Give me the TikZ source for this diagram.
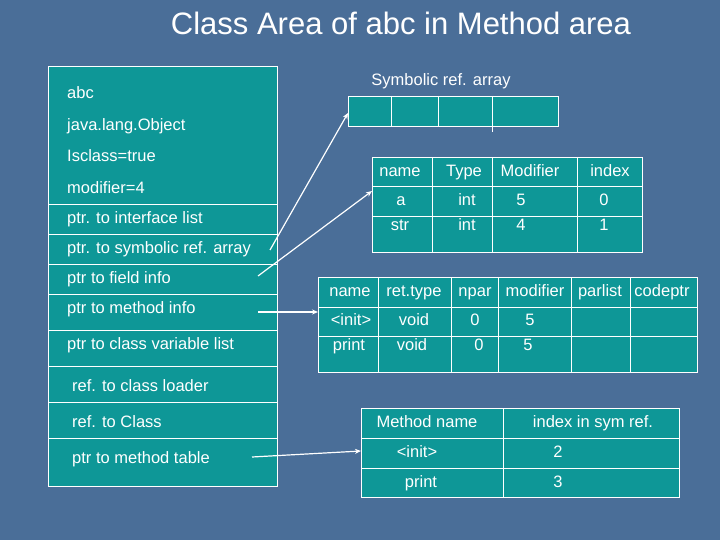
\documentclass[tikz,border=0pt]{standalone}
\usepackage{fontspec}
\setmainfont{Liberation Sans}
\usetikzlibrary{arrows.meta}
\begin{document}
\begin{tikzpicture}[x=1pt,y=-1pt,
  box/.style={fill=teal0,draw=white,line width=0.7pt},
  lbl/.style={text=white,font=\fontsize{16.5}{19}\selectfont,inner sep=0pt,text height=12pt,text depth=3.5pt},
  lt/.style={lbl,anchor=west},
  arr/.style={draw=white,line width=1.2pt,-{Stealth[length=6pt,width=5pt]}}]
\definecolor{teal0}{HTML}{0E9797}
\definecolor{bg}{HTML}{4A6E98}
\fill[bg] (0,0) rectangle (720,540);
\useasboundingbox (0,0) rectangle (720,540);
\node[text=white,font=\fontsize{31}{36}\selectfont,inner sep=0pt] (title) at (401,23) {Class Area of abc in Method area};
% left box
\draw[box] (48,66) rectangle (277,486);
\foreach \y in {204,234,264,294,330,366,402,438} \draw[white,line width=0.7pt] (48,\y) -- (277,\y);
\node[lt] (t1) at (67,94) {abc};
\node[lt] (t2) at (67,126) {java.lang.Object};
\node[lt] (t3) at (67,157) {Isclass=true};
\node[lt] (t4) at (67,189) {modifier=4};
\node[lt] (t5) at (67,219) {ptr. to interface list};
\node[lt] (t6) at (67,249) {ptr. to symbolic ref. array};
\node[lt] (t7) at (67,279) {ptr to field info};
\node[lt] (t8) at (67,309) {ptr to method info};
\node[lt] (t9) at (67,345) {ptr to class variable list};
\node[lt] (t10) at (72,387) {ref. to class loader};
\node[lt] (t11) at (72,423) {ref. to Class};
\node[lt] (t12) at (72,459) {ptr to method table};
\coordinate (s6) at (270,250);
\coordinate (s7) at (258,276);
\coordinate (s8) at (258,312);
\coordinate (s12) at (252,457);
% symbolic array
\node[lbl] (symt) at (441,81) {Symbolic ref. array};
\draw[box] (348,96) rectangle (558,126);
\foreach \x in {391,438,492} \draw[white,line width=0.7pt] (\x,96) -- (\x,126);
\draw[white,line width=0.7pt] (492,126) -- (492,132);
\coordinate (sym) at (348,113);
% field table
\draw[box] (372,157) rectangle (642,252);
\foreach \x in {432,492,577} \draw[white,line width=0.7pt] (\x,157) -- (\x,252);
\foreach \y in {186,216} \draw[white,line width=0.7pt] (372,\y) -- (642,\y);
\coordinate (fld) at (372,191);
\node[lbl] (f11) at (400,172) {name};
\node[lbl] (f12) at (464,172) {Type};
\node[lbl] (f13) at (530,172) {Modifier};
\node[lbl] (f14) at (610,172) {index};
\node[lbl] (f21) at (401,201) {a};
\node[lbl] (f22) at (467,201) {int};
\node[lbl] (f23) at (521,201) {5};
\node[lbl] (f24) at (604,201) {0};
\node[lbl] (f31) at (400,226) {str};
\node[lbl] (f32) at (467,226) {int};
\node[lbl] (f33) at (521,226) {4};
\node[lbl] (f34) at (604,226) {1};
% method info table
\draw[box] (318,277) rectangle (697,372);
\foreach \x in {378,451,498,571,630} \draw[white,line width=0.7pt] (\x,277) -- (\x,372);
\foreach \y in {307,336} \draw[white,line width=0.7pt] (318,\y) -- (697,\y);
\coordinate (mth) at (318,312);
\node[lbl] (m1) at (350,292) {name};
\node[lbl] (m2) at (414,292) {ret.type};
\node[lbl] (m3) at (475,292) {npar};
\node[lbl] (m4) at (535,292) {modifier};
\node[lbl] (m5) at (600,292) {parlist};
\node[lbl] (m6) at (662,292) {codeptr};
\node[lbl] (m21) at (351,321) {<init>};
\node[lbl] (m22) at (414,321) {void};
\node[lbl] (m23) at (475,321) {0};
\node[lbl] (m24) at (530,321) {5};
\node[lbl] (m31) at (349,346) {print};
\node[lbl] (m32) at (412,346) {void};
\node[lbl] (m33) at (479,346) {0};
\node[lbl] (m34) at (528,346) {5};
% method table
\draw[box] (361,408) rectangle (679,497);
\draw[white,line width=0.7pt] (503,408) -- (503,497);
\foreach \y in {438,468} \draw[white,line width=0.7pt] (361,\y) -- (679,\y);
\coordinate (mtb) at (361,451);
\node[lbl] (b11) at (427,423) {Method name};
\node[lbl] (b12) at (593,423) {index in sym ref.};
\node[lbl] (b21) at (417,453) {<init>};
\node[lbl] (b22) at (558,453) {2};
\node[lbl] (b31) at (421,483) {print};
\node[lbl] (b32) at (558,483) {3};
% arrows
\draw[arr] (s6) -- (sym);
\draw[arr] (s7) -- (fld);
\draw[arr] (s8) -- (mth);
\draw[arr] (s12) -- (mtb);
\end{tikzpicture}
\end{document}
